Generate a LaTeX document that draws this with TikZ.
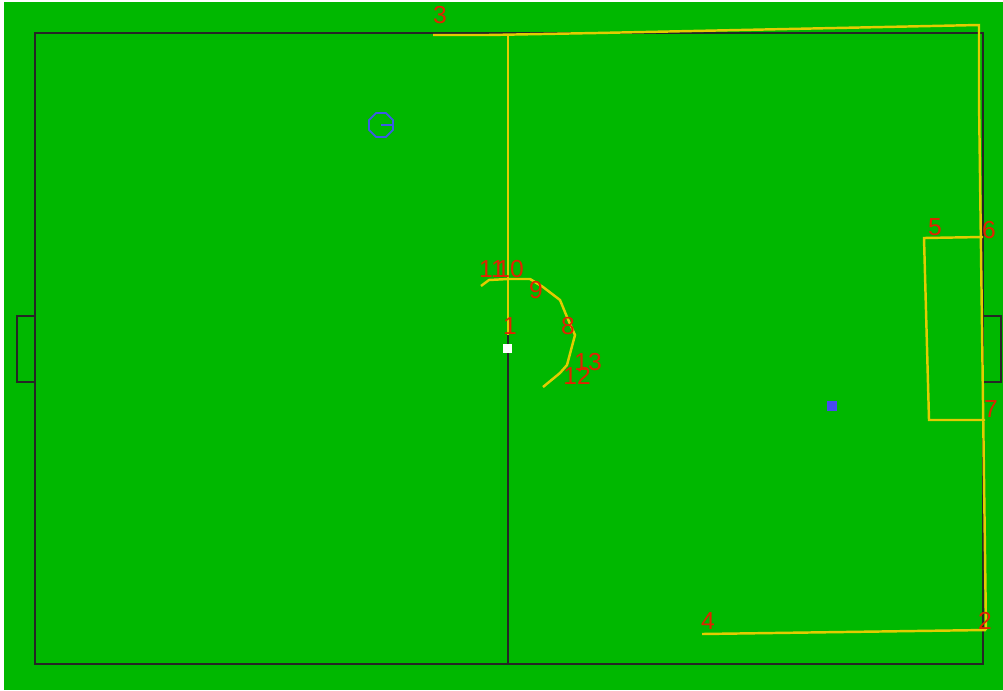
\documentclass[tikz,border=0pt]{standalone}
\usepackage{fontspec}
\setmainfont{Liberation Sans}
\usetikzlibrary{positioning,shapes.geometric}

\definecolor{cesped}{RGB}{0,184,0}
\definecolor{camino}{RGB}{226,204,0}
\definecolor{rojo}{RGB}{226,34,0}
\definecolor{azul}{RGB}{60,90,230}
\definecolor{azulclaro}{RGB}{72,72,240}

\begin{document}
\begin{tikzpicture}[
    x=0.02cm, y=-0.02cm,
    line/.style={draw=black!85, line width=1.5pt},
    track/.style={draw=camino, line width=1.4pt},
    num/.style={text=rojo, inner sep=0pt, font=\fontsize{14}{14}\selectfont}
]
\useasboundingbox (0,0) rectangle (1003,690);

% Fondo
\fill[white] (0,0) rectangle (1003,690);
\fill[cesped] (4,2) rectangle (1003,690);

% Campo
\draw[line] (35,33) rectangle (983,664);
\draw[line] (508,33) -- (508,664);
\draw[line] (35,316) -- (17,316) -- (17,382) -- (35,382);
\draw[line] (983,316) -- (1001,316) -- (1001,382) -- (983,382);

% Puntos de la trayectoria
\coordinate (p1) at (508,335);
\coordinate (p2) at (986,630);
\coordinate (p3) at (433,35);
\coordinate (p4) at (702,634);
\coordinate (p5) at (924,238);
\coordinate (p6) at (983,237);
\coordinate (p7) at (985,420);
\coordinate (p8) at (575,335);
\coordinate (p9) at (530,279);
\coordinate (p10) at (508,279);
\coordinate (p11) at (481,286);
\coordinate (p12) at (560,373);
\coordinate (p13) at (567,365);
\coordinate (top) at (508,35);

% Trayectoria
\draw[track] (p3) -- (488,35) -- (597,33) -- (979,25) -- (979,100) -- (p2);
\draw[track] (p2) -- (p4);
\draw[track] (top) -- (p1);
\draw[track] (p6) -- (p5) -- (929,420) -- (p7);
\draw[track] (p11) -- (489,280) -- (p10) -- (p9) -- (543,287) -- (560,300)
    -- (567,317) -- (p8) -- (p13) -- (p12) -- (543,387);

% Etiquetas
\node[num] (l1) at (510,326) {1};
\node[num] (l2) at (985,621) {2};
\node[num] (l3) at (440,15) {3};
\node[num] (l4) at (708,621) {4};
\node[num] (l5) at (935,227) {5};
\node[num] (l6) at (989,230) {6};
\node[num] (l7) at (991,409) {7};
\node[num] (l8) at (568,326) {8};
\node[num] (l9) at (536,290) {9};
\node[num] (l11) at (492,269) {11};
\node[num] (l10) at (510,269) {10};
\node[num] (l13) at (588,362) {13};
\node[num] (l12) at (577,376) {12};

% Pelota y robots
\node[fill=white, minimum size=0.18cm, inner sep=0pt] (ball) at (507,348) {};
\node[fill=azulclaro, minimum size=0.2cm, inner sep=0pt] (robot) at (832,406) {};
\node[draw=azul, regular polygon, regular polygon sides=8, minimum size=0.52cm,
    inner sep=0pt, line width=1pt] (rival) at (381,125) {};
\draw[azul, line width=1pt] (rival.center) -- (rival.east);
\end{tikzpicture}
\end{document}
